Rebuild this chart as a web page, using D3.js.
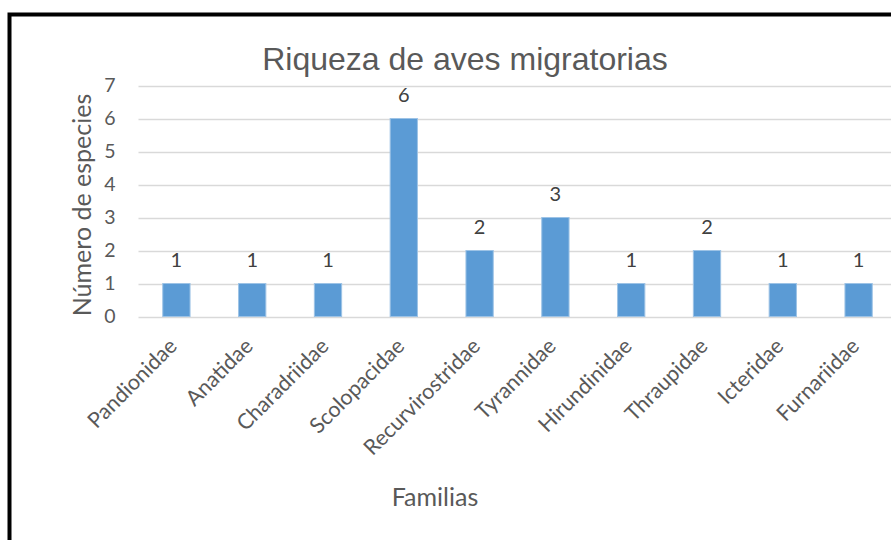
<!DOCTYPE html>
<html>
<head>
<meta charset="utf-8">
<script src="https://cdn.jsdelivr.net/npm/d3@7"></script>
<style>
  html, body { margin: 0; padding: 0; background: #fff; }
  svg { display: block; }
</style>
</head>
<body>
<svg id="chart" width="891" height="540"></svg>
<script>
// Familias y número de especies migratorias
const familias = ["Pandionidae", "Anatidae", "Charadriidae", "Scolopacidae", "Recurvirostridae",
                  "Tyrannidae", "Hirundinidae", "Thraupidae", "Icteridae", "Furnariidae"];
const especies = [1, 1, 1, 6, 2, 3, 1, 2, 1, 1];
const yTicks = [0, 1, 2, 3, 4, 5, 6, 7];

const titulo = "Riqueza de aves migratorias";
const ejeY = "Número de especies";
const ejeX = "Familias";

const svg = d3.select("#chart");
const W = 891, H = 540;
const plot = { left: 138.5, right: 896.5, top: 85.5, bottom: 316.5 };
const font = "Lato, 'Open Sans', sans-serif";
const txt = "#595959";

// marco del gráfico (los bordes derecho e inferior quedan fuera del lienzo)
svg.append("rect")
  .attr("x", 9.5).attr("y", 14.5)
  .attr("width", W + 20).attr("height", H + 20)
  .attr("fill", "#fff").attr("stroke", "#000").attr("stroke-width", 4);

const x = d3.scaleBand().domain(familias).range([plot.left, plot.right]).paddingInner(0.64).paddingOuter(0.32);
const y = d3.scaleLinear().domain([0, 7]).range([plot.bottom, plot.top]);

// líneas de cuadrícula
svg.append("g").selectAll("line").data(yTicks).join("line")
  .attr("x1", plot.left).attr("x2", W)
  .attr("y1", d => Math.round(y(d)) + 0.5).attr("y2", d => Math.round(y(d)) + 0.5)
  .attr("stroke", "#d9d9d9").attr("stroke-width", 1.5);

// eje Y
const yAxis = svg.append("g")
  .attr("transform", `translate(${plot.left - 23},0)`)
  .call(d3.axisLeft(y).tickValues(yTicks).tickSize(0).tickPadding(0).tickFormat(d3.format("d")));
yAxis.select(".domain").remove();
yAxis.selectAll("text")
  .attr("fill", txt).attr("font-family", font).attr("font-size", 19.5);

// barras
svg.append("g").selectAll("rect").data(familias).join("rect")
  .attr("x", d => x(d))
  .attr("y", (d, i) => y(especies[i]))
  .attr("width", x.bandwidth())
  .attr("height", (d, i) => y(0) - y(especies[i]))
  .attr("fill", "#5b9bd5")
  .attr("stroke", "#9dc3e6").attr("stroke-width", 1);

// etiquetas de valor
svg.append("g").selectAll("text").data(familias).join("text")
  .attr("x", d => x(d) + x.bandwidth() / 2)
  .attr("y", (d, i) => y(especies[i]) - 17)
  .attr("text-anchor", "middle")
  .attr("fill", "#404040").attr("font-family", font).attr("font-size", 20)
  .text((d, i) => especies[i]);

// etiquetas de categoría
svg.append("g").selectAll("text").data(familias).join("text")
  .attr("transform", d => `translate(${x(d) + x.bandwidth() / 2 + 2},${plot.bottom + 31}) rotate(-45)`)
  .attr("text-anchor", "end")
  .attr("fill", txt).attr("font-family", font).attr("font-size", 21.5)
  .text(d => d);

// título
svg.append("text")
  .attr("x", 465).attr("y", 70)
  .attr("text-anchor", "middle")
  .attr("fill", txt).attr("font-family", "'Liberation Sans', Arial, sans-serif").attr("font-size", 32)
  .text(titulo);

// título del eje Y
svg.append("text")
  .attr("transform", `translate(91,205) rotate(-90)`)
  .attr("text-anchor", "middle")
  .attr("fill", txt).attr("font-family", font).attr("font-size", 25)
  .text(ejeY);

// título del eje X
svg.append("text")
  .attr("x", 435).attr("y", 506)
  .attr("text-anchor", "middle")
  .attr("fill", txt).attr("font-family", font).attr("font-size", 25)
  .text(ejeX);
</script>
</body>
</html>
